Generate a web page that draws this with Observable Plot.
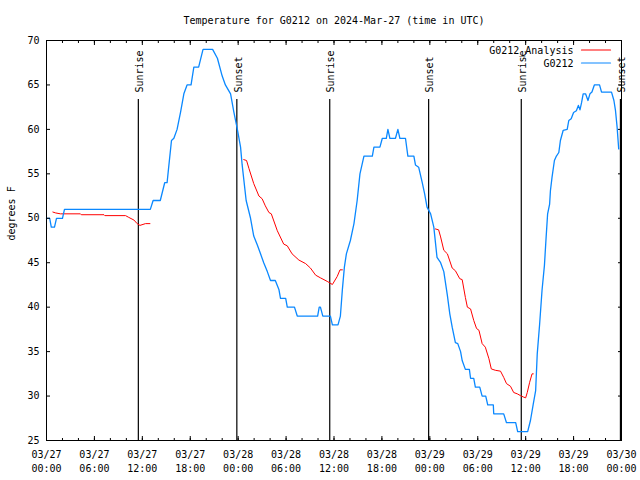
<!DOCTYPE html>
<html><head><meta charset="utf-8">
<script src="https://cdn.jsdelivr.net/npm/d3@7"></script>
<script src="https://cdn.jsdelivr.net/npm/@observablehq/plot@0.6"></script>
<style>html,body{margin:0;padding:0;background:#fff} svg{display:block}</style>
</head><body><div id="chart"></div>
<script>
const titleText = "Temperature for G0212 on 2024-Mar-27 (time in UTC)";
const yLabel = "degrees F";
const seriesNames = ["G0212_Analysis", "G0212"];
const seriesColors = ["#ff0000", "#0a88ff"];
const startTime = "2024-03-27T00:00Z";
const endTime = "2024-03-30T00:00Z";
const yTicks = [25, 30, 35, 40, 45, 50, 55, 60, 65, 70];

// G0212 observations: hours after 2024-03-27 00:00 UTC, temperature in F
const obsHours = [0.0,0.4,0.6,1.0,1.25,2.0,2.25,13.0,13.35,14.25,14.8,15.1,15.3,15.65,15.95,16.35,16.8,17.2,17.6,18.1,18.45,19.05,19.6,20.8,21.4,22.0,22.4,23.05,23.45,23.9,24.3,24.5,25.0,25.55,25.95,26.4,26.8,27.2,27.65,28.05,28.65,29.1,29.3,29.95,30.15,31.05,31.4,33.95,34.15,34.3,34.6,35.55,35.8,36.5,36.8,37.05,37.3,37.55,38.05,38.5,38.9,39.25,39.75,40.8,41.0,41.75,42.05,42.55,42.75,43.0,43.7,44.0,44.25,44.95,45.25,46.0,46.2,46.6,47.05,47.35,47.65,48.1,48.5,48.9,49.35,49.75,50.2,50.5,50.8,51.2,51.5,51.85,52.05,52.45,52.95,53.1,53.5,53.7,54.25,54.55,55.0,55.25,55.95,56.0,57.25,57.6,58.75,59.0,60.25,60.6,60.95,61.25,61.45,61.75,62.05,62.35,62.55,62.75,63.0,63.1,63.3,63.6,63.85,64.15,64.35,64.7,65.2,65.4,65.7,66.0,66.35,66.6,66.8,67.0,67.2,67.5,67.8,68.05,68.3,68.6,69.25,69.5,70.75,71.05,71.25,71.45,71.65];
const obsTemp = [50,50,49,49,50,50,51,51,52,52,54,54,55.75,58.75,59,60,62,64,65,65,67,67,69,69,68,66,65,64,62,60,58,56,52,50,48,47,46,45,44,43,43,42,41,41,40,40,39,39,40,40,39,39,38,38,39,42,44.5,46,47.5,49.4,52,55,57,57,58,58,59,59,60,59,59,60,59,59,57,57,56,55.75,54,52.75,51.25,50.5,49,45.6,45,44,41.3,39.25,37.75,36,35.9,35,34,33,33,32,32,31,31,30,30,29,29,28,28,27,27,26,26,27.25,29.1,30.6,34.75,38.1,41.9,44.7,47.7,50.5,51.6,53.1,54.6,56.5,57,57.4,58.75,59.9,60,61,61.2,61.9,62.1,62.7,62.2,63,64,64,63.25,64,64.2,65,65,64.2,64.2,63.25,62.1,60.25,57.8];

// G0212_Analysis: hours after 2024-03-27 00:00 UTC, temperature in F (null = gap)
const anaHours = [0.8,1.15,1.75,4.25,4.35,7.2,7.3,9.9,10.3,10.95,11.35,11.7,12.4,12.95,18.0,24.7,25.05,25.35,25.95,26.6,27.0,27.4,27.85,28.15,28.9,29.7,30.15,30.75,31.6,32.45,33.05,33.7,34.3,35.15,35.8,36.4,36.75,37.05,42.0,48.7,49.1,49.35,49.75,50.2,50.8,51.2,51.75,52.05,52.45,52.7,53.1,53.5,53.85,54.15,54.55,54.95,55.4,55.7,56.2,56.85,57.25,57.6,58.1,58.5,58.95,59.35,59.7,60.0,60.2,60.5,60.8,60.95];
const anaTemp = [50.7,50.6,50.5,50.5,50.4,50.4,50.3,50.3,50.1,49.8,49.4,49.2,49.4,49.4,null,56.6,56.5,55.6,53.9,52.5,52.2,51.4,50.65,50.5,48.6,47.1,46.9,46,45.3,44.9,44.4,43.6,43.3,42.9,42.55,43.45,44.2,44.2,null,48.8,48.7,47.9,46.4,46,44.4,44.1,43.2,43.1,41.1,40,39.8,38.5,37.6,37.4,35.9,35.5,34.2,33.05,32.9,32.8,32.1,31.4,31.1,30.4,30.25,30.05,29.9,29.8,30.4,31.55,32.5,32.5];

const sunTimes = ["2024-03-27T11:30Z","2024-03-27T23:50Z","2024-03-28T11:28Z","2024-03-28T23:51Z","2024-03-29T11:27Z","2024-03-29T23:52Z"];
const sunLabels = ["Sunrise","Sunset","Sunrise","Sunset","Sunrise","Sunset"];

const t0 = new Date(startTime);
const t1 = new Date(endTime);
const toDate = h => new Date(+t0 + h * 3600e3);
const obs = obsHours.map((h, i) => ({t: toDate(h), v: obsTemp[i]}));
const ana = anaHours.map((h, i) => ({t: toDate(h), v: anaTemp[i]}));
const sun = sunTimes.map((s, i) => ({t: new Date(s), label: sunLabels[i]}));
const majorX = d3.utcHour.every(6).range(t0, new Date(+t1 + 1));
const minorX = d3.utcHour.every(2).range(t0, new Date(+t1 + 1));
const fmt = d3.utcFormat("%m/%d\n%H:%M");

const lineShape = {draw(context, l) { context.moveTo(0, 0); context.lineTo(0, -l); }};

const legendMarks = seriesNames.flatMap((name, i) => [
  Plot.text([name], {text: d => d, frameAnchor: "top-right", textAnchor: "end", lineAnchor: "middle", dx: -48, dy: 10 + i * 13, fill: "black"}),
  Plot.vector([name], {frameAnchor: "top-right", dx: -40, dy: 9.5 + i * 13, rotate: 90, length: 29, anchor: "start", shape: lineShape, stroke: seriesColors[i], strokeWidth: 1.2})
]);

const chart = Plot.plot({
  width: 640, height: 480,
  marginTop: 40, marginBottom: 40, marginLeft: 46, marginRight: 19,
  style: {fontFamily: "'DejaVu Sans Mono', monospace", fontSize: "10px", color: "black", background: "white"},
  x: {type: "utc", domain: [t0, t1]},
  y: {domain: [25, 70]},
  marks: [
    Plot.ruleX(sun, {x: "t", insetTop: 59, stroke: "black", strokeWidth: 1.2}),
    Plot.text(sun, {x: "t", text: "label", rotate: -90, frameAnchor: "top", textAnchor: "start", lineAnchor: "middle", dy: 52, dx: 1.5, fill: "black"}),
    Plot.line(ana, {x: "t", y: "v", stroke: seriesColors[0], strokeWidth: 1}),
    Plot.line(obs, {x: "t", y: "v", stroke: seriesColors[1], strokeWidth: 1.3}),
    Plot.frame({stroke: "black"}),
    Plot.axisX({ticks: majorX, tickSize: 0, tickPadding: 8, tickFormat: fmt, lineHeight: 1.35, label: null}),
    Plot.axisX({ticks: majorX, tickSize: -4, fill: "none", label: null}),
    Plot.axisX({ticks: minorX, tickSize: -2, fill: "none", label: null}),
    Plot.axisX({anchor: "top", ticks: majorX, tickSize: -4, fill: "none", label: null}),
    Plot.axisX({anchor: "top", ticks: minorX, tickSize: -2, fill: "none", label: null}),
    Plot.axisY({ticks: yTicks, tickSize: 0, tickPadding: 7, label: null}),
    Plot.axisY({ticks: yTicks, tickSize: -4, fill: "none", label: null}),
    Plot.axisY({anchor: "right", ticks: yTicks, tickSize: -4, fill: "none", label: null}),
    Plot.text([titleText], {text: d => d, frameAnchor: "top", lineAnchor: "middle", dy: -20, fill: "black"}),
    Plot.text([yLabel], {text: d => d, frameAnchor: "left", rotate: -90, lineAnchor: "middle", dx: -35, fill: "black"}),
    ...legendMarks
  ]
});
document.getElementById("chart").append(chart);
</script>
</body></html>
